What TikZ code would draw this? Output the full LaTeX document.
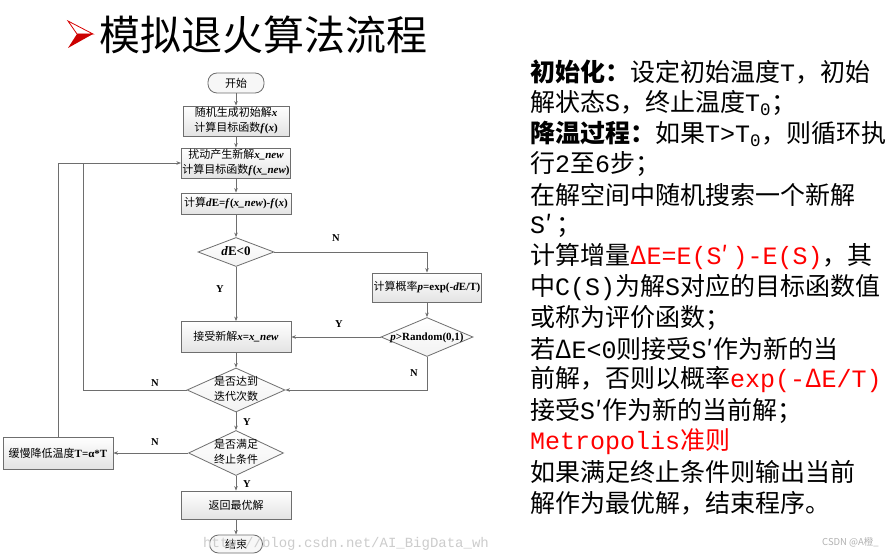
\documentclass[tikz,border=0pt]{standalone}
\usepackage{fontspec}
\setmainfont{Liberation Serif}
\newfontfamily\cjk{Noto Sans CJK SC}
\newfontfamily\monof{Liberation Mono}
\usetikzlibrary{shapes.geometric,arrows.meta,calc}
\newcommand\lat[1]{{\monof #1}}
\newcommand\fcf{\fontsize{11}{15}\selectfont}
\newcommand\dtxt[1]{\makebox[0pt]{\smash{\raisebox{-0.25em}{\begin{tabular}[c]{@{}c@{}}#1\end{tabular}}}}}
\definecolor{lc}{HTML}{6E6E6E}
\tikzset{
  conn/.style={draw=lc, line width=0.7pt},
  arr/.style={conn, -{Stealth[length=4.5pt,width=3.5pt]}},
  proc/.style={rectangle, draw=lc, line width=0.8pt, top color=white, bottom color=gray!22,
               inner sep=1pt, font=\fcf, align=center},
  dec/.style={diamond, draw=lc, line width=0.8pt, top color=white, bottom color=gray!10, inner sep=0pt, font=\fcf},
  term/.style={rectangle, rounded corners=9pt, draw=lc, line width=0.8pt, fill=gray!6,
               inner sep=0pt, font=\fcf},
  yn/.style={font=\bfseries\fontsize{10.5}{12}\selectfont, inner sep=0pt},
  rt/.style={anchor=west, inner sep=0pt, font=\cjk\fontsize{25}{30}\selectfont},
}
\begin{document}
\begin{tikzpicture}[x=1pt,y=-1pt]
\fill[white] (0,0) rectangle (895,556);
\useasboundingbox (0,0) rectangle (895,556);

% ---- title ----
\filldraw[draw=red!85!black, fill=white, line width=0.8pt] (68,21) -- (93,34) -- (77,34) -- cycle;
\fill[red!80!black] (77,34) -- (93,34) -- (68,48) -- cycle;
\node[anchor=west, inner sep=0pt, font=\cjk\fontsize{41}{41}\selectfont] (title) at (99,35) {模拟退火算法流程};

% ---- flowchart nodes ----
\node[term, minimum width=56pt, minimum height=20pt] (start) at (236,83) {\cjk 开始};
\node[proc, minimum width=106pt, minimum height=30pt] (b1) at (236,121)
  {{\cjk 随机生成初始解}\textbf{\textit{x}}\\{\cjk 计算目标函数}\textbf{\textit{f}(\textit{x})}};
\node[proc, minimum width=106pt, minimum height=30pt] (b2) at (236,163)
  {{\cjk 扰动产生新解}\textbf{\textit{x\_new}}\\{\cjk 计算目标函数}\textbf{\textit{f}(\textit{x\_new})}};
\node[proc, minimum width=110pt, minimum height=21pt] (b3) at (236,203.5)
  {{\cjk 计算}\textbf{\textit{d}E=\textit{f}(\textit{x\_new})-\textit{f}(\textit{x})}};
\node[dec, minimum width=76pt, minimum height=29pt] (d1) at (236,252)
  {\dtxt{\fontsize{13}{14}\selectfont\textbf{\textit{d}E<0}}};
\node[proc, minimum width=109pt, minimum height=29pt] (b4) at (427,287.5)
  {{\cjk 计算概率}\textbf{\textit{p}=exp(-\textit{d}E/T)}};
\node[dec, minimum width=92pt, minimum height=39pt] (d2) at (427,337)
  {\dtxt{\textbf{\textit{p}>Random(0,1)}}};
\node[proc, minimum width=110pt, minimum height=31pt] (b5) at (236,337)
  {{\cjk 接受新解}\textbf{\textit{x}=\textit{x\_new}}};
\node[dec, minimum width=98pt, minimum height=44pt] (d3) at (236,390)
  {\dtxt{\cjk 是否达到\\\cjk 迭代次数}};
\node[dec, minimum width=95pt, minimum height=45pt] (d4) at (236,453)
  {\dtxt{\cjk 是否满足\\\cjk 终止条件}};
\node[proc, minimum width=110pt, minimum height=32pt] (b6) at (58,453)
  {{\cjk 缓慢降低温度}\textbf{T=α*T}};
\node[proc, minimum width=110pt, minimum height=28pt] (b7) at (236,505)
  {\cjk 返回最优解};
\node[term, minimum width=53pt, minimum height=18pt] (end) at (236,544) {\cjk 结束};
\coordinate (j1) at (83,163);

% ---- connectors ----
\draw[arr] (start) -- (b1);
\draw[arr] (b1) -- (b2);
\draw[arr] (b2) -- (b3);
\draw[arr] (b3) -- (d1);
\draw[arr] (d1.south) -- (b5.north);
\draw[arr] (d1.east) -| (b4.north);
\draw[arr] (b4) -- (d2);
\draw[arr] (d2.west) -- (b5.east);
\draw[arr] (d2.south) |- (d3.east);
\draw[arr] (b5) -- (d3);
\draw[conn] (d3.west) -| (j1);
\draw[arr] (b6.north) |- (b2.west);
\draw[arr] (d3.south) -- (d4.north);
\draw[arr] (d4.west) -- (b6.east);
\draw[arr] (d4.south) -- (b7.north);
\draw[arr] (b7) -- (end);

% ---- Y / N labels ----
\node[yn] (n1) at (336,238) {N};
\node[yn] (y1) at (220,289) {Y};
\node[yn] (y2) at (339,324) {Y};
\node[yn] (n2) at (414,373) {N};
\node[yn] (n3) at (155,383) {N};
\node[yn] (y3) at (247,422) {Y};
\node[yn] (n4) at (155,442) {N};
\node[yn] (y4) at (247,484) {Y};

% ---- right text ----
\node[rt] (t0) at (530,72) {{\bfseries 初始化：}设定初始温度\lat{T}，初始};
\node[rt] (t1) at (530,102.8) {解状态\lat{S}，终止温度\lat{T}\textsubscript{\lat{0}}；};
\node[rt] (t2) at (530,133.6) {{\bfseries 降温过程：}如果\lat{T>T}\textsubscript{\lat{0}}，则循环执};
\node[rt] (t3) at (530,164.4) {行\lat{2}至\lat{6}步；};
\node[rt] (t4) at (530,195.2) {在解空间中随机搜索一个新解};
\node[rt] (t5) at (530,226) {\lat{S}′\,；};
\node[rt] (t6) at (530,256.8) {计算增量{\color{red}Δ\lat{E=E(S}′\,\lat{)-E(S)}}，其};
\node[rt] (t7) at (530,287.6) {中\lat{C(S)}为解\lat{S}对应的目标函数值};
\node[rt] (t8) at (530,318.4) {或称为评价函数；};
\node[rt] (t9) at (530,349.2) {若Δ\lat{E<0}则接受\lat{S}′作为新的当};
\node[rt] (t10) at (530,380) {前解，否则以概率{\color{red}\lat{exp(-}Δ\lat{E/T)}}};
\node[rt] (t11) at (530,410.8) {接受\lat{S}′作为新的当前解；};
\node[rt] (t12) at (530,441.6) {{\color{red}\lat{Metropolis}准则}};
\node[rt] (t13) at (530,472.4) {如果满足终止条件则输出当前};
\node[rt] (t14) at (530,503.2) {解作为最优解，结束程序。};

% ---- watermarks ----
\node[anchor=west, inner sep=0pt, text=gray!40, font=\monof\fontsize{14}{14}\selectfont] (wm) at (203,544) {http://blog.csdn.net/AI\_BigData\_wh};
\node[anchor=east, inner sep=0pt, text=gray!60, font=\cjk\fontsize{9.5}{10}\selectfont] (csdn) at (879,542) {CSDN @A橙\_};
\end{tikzpicture}
\end{document}
